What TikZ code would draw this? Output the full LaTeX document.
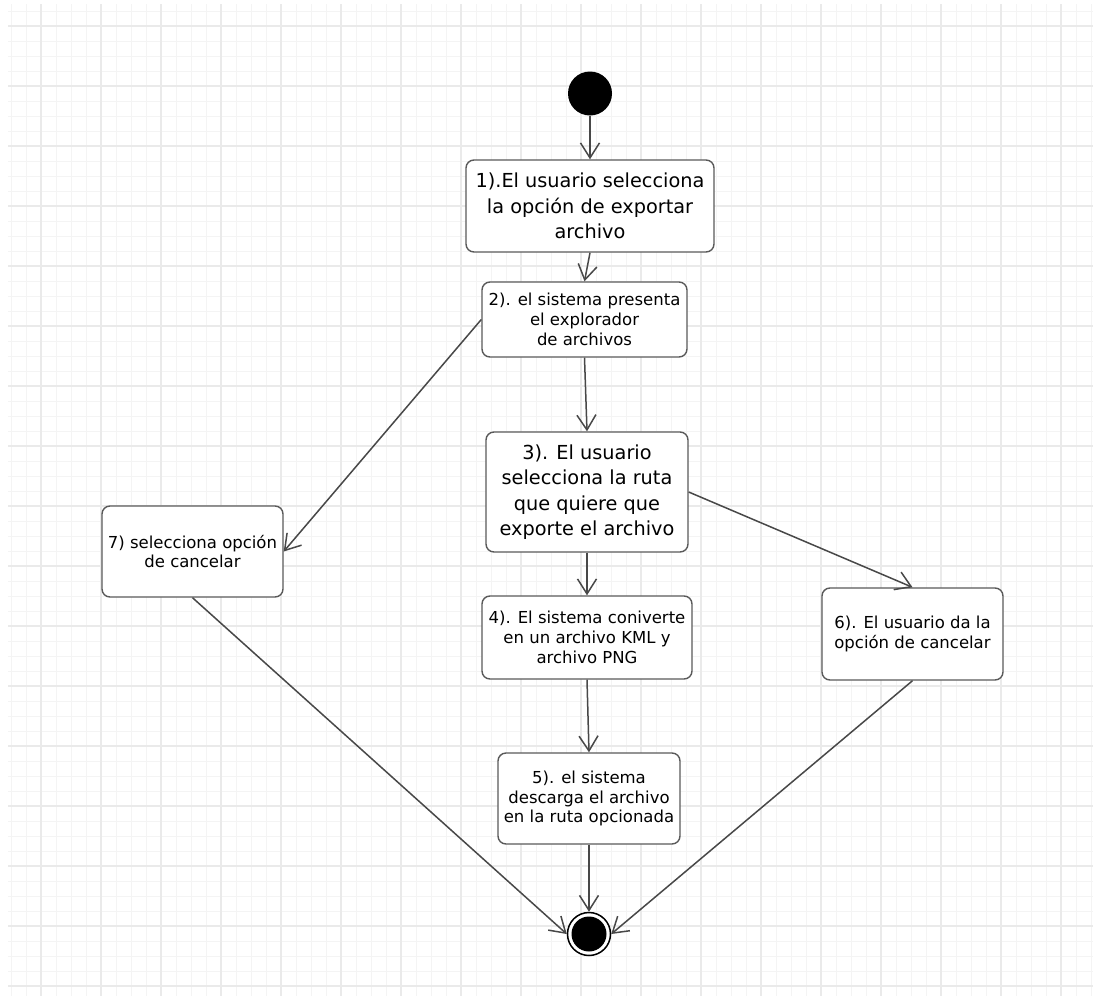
\documentclass[tikz,border=0pt]{standalone}
\usepackage{fontspec}
\setmainfont{DejaVu Sans}
\usetikzlibrary{arrows.meta}
\definecolor{minorg}{HTML}{F4F4F4}
\definecolor{majorg}{HTML}{EAEAEA}
\definecolor{edgec}{HTML}{484848}
\definecolor{boxc}{HTML}{5A5A5A}
\tikzset{
  minorgrid/.style={draw=minorg, line width=1pt},
  majorgrid/.style={draw=majorg, line width=1.2pt},
  actbox/.style={draw=boxc, line width=1.4pt, fill=white, rounded corners=8pt,
    align=center, inner sep=0pt, text=black},
  bigtext/.style={font=\fontsize{19.3}{25.5}\selectfont},
  smalltext/.style={font=\fontsize{16.5}{19.8}\selectfont},
  flow/.style={draw=edgec, line width=1.5pt,
    -{Straight Barb[length=15pt,width=19pt,line width=1.5pt]}},
}
\begin{document}
\begin{tikzpicture}[x=1pt,y=-1pt]
\useasboundingbox (0,0) rectangle (1093,999);
\fill[white] (0,0) rectangle (1093,999);
\begin{scope}
\clip (8,4) rectangle (1093,996);
\foreach \x in {11,26,...,1091} \draw[minorgrid] (\x,4) -- (\x,996);
\foreach \y in {11,26,...,995} \draw[minorgrid] (8,\y) -- (1093,\y);
\foreach \x in {41,101,...,1061} \draw[majorgrid] (\x,4) -- (\x,996);
\foreach \y in {26,86,...,986} \draw[majorgrid] (8,\y) -- (1093,\y);
\end{scope}

\node[circle, fill=black, minimum size=44pt, inner sep=0pt] (start) at (590,93.5) {};
\node[circle, draw=black, line width=1.5pt, fill=white, minimum size=43pt, inner sep=0pt] (endn) at (589,934) {};
\fill[black] (endn.center) circle (17.5pt);

\node[actbox, bigtext, minimum width=248pt, minimum height=92pt] (n1) at (590,206)
  {1).El usuario selecciona\\la opción de exportar\\archivo};
\node[actbox, smalltext, minimum width=205pt, minimum height=75pt] (n2) at (584.5,319.5)
  {2). el sistema presenta\\el explorador\\de archivos};
\node[actbox, bigtext, minimum width=202pt, minimum height=120pt] (n3) at (587,492)
  {3). El usuario\\selecciona la ruta\\que quiere que\\exporte el archivo};
\node[actbox, smalltext, minimum width=181pt, minimum height=91pt] (n7) at (192.5,551.5)
  {7) selecciona opción\\de cancelar};
\node[actbox, smalltext, minimum width=210pt, minimum height=83pt] (n4) at (587,637.5)
  {4). El sistema coniverte\\en un archivo KML y\\archivo PNG};
\node[actbox, smalltext, minimum width=182pt, minimum height=91pt] (n5) at (589,798.5)
  {5). el sistema\\descarga el archivo\\en la ruta opcionada};
\node[actbox, smalltext, minimum width=181pt, minimum height=92pt] (n6) at (912.5,634)
  {6). El usuario da la\\opción de cancelar};

\draw[flow] (start) -- (n1.north);
\draw[flow] (n1.south) -- (n2.north);
\draw[flow] (n2.south) -- (n3.north);
\draw[flow] (n2.west) -- (n7.east);
\draw[flow] (n3.east) -- (n6.north);
\draw[flow] (n3.south) -- (n4.north);
\draw[flow] (n4.south) -- (n5.north);
\draw[flow] (n5.south) -- (endn.north);
\draw[flow] (n7.south) -- (endn.west);
\draw[flow] (n6.south) -- (endn.east);
\end{tikzpicture}
\end{document}
